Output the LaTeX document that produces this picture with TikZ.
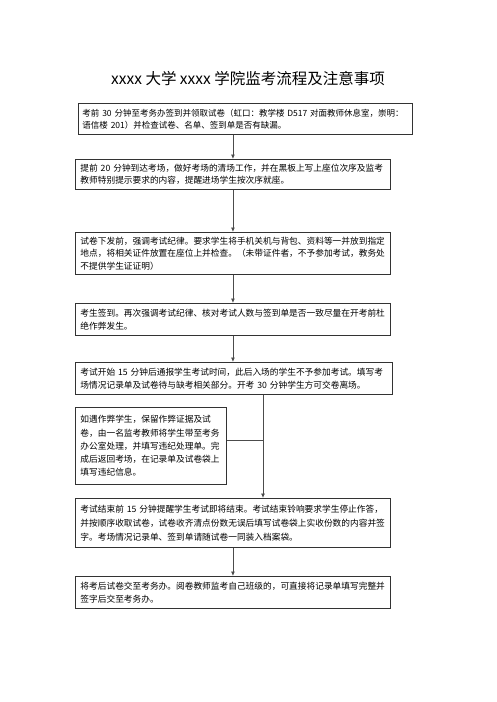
\documentclass[tikz,border=0pt]{standalone}
\usepackage{fontspec}
\newfontfamily\cjk{Noto Sans CJK SC}
\usetikzlibrary{arrows.meta}
\tikzset{
  stepbox/.style={draw=black!80, line width=0.9pt, inner xsep=5pt, inner ysep=3pt,
    anchor=north west, align=left, font=\cjk\fontsize{8.7}{12.5}\selectfont},
  link/.style={draw=black!70, line width=0.8pt}
}
\begin{document}
\begin{tikzpicture}[x=1pt,y=1pt,>={Latex[length=4.5pt,width=4pt]}]
\useasboundingbox [fill=white] (0,0) rectangle (496,-702);
\node (title) at (248,-79) [font=\cjk\fontsize{15.5}{18}\selectfont]{xxxx 大学 xxxx 学院监考流程及注意事项};

\node (start) at (78,-103) [stepbox, text width=326pt, inner xsep=4pt, minimum height=31pt, font=\cjk\fontsize{8.5}{12}\selectfont]
  {\mbox{考前 30 分钟至考务办签到并领取试卷（虹口：教学楼 D517 对面教师休息室，崇明：}\\语信楼 201）并检查试卷、名单、签到单是否有缺漏。};
\node (clear) at (75,-159) [stepbox, text width=305pt, minimum height=30pt]
  {提前 20 分钟到达考场，做好考场的清场工作，并在黑板上写上座位次序及监考\\教师特别提示要求的内容，提醒进场学生按次序就座。};
\node (rules) at (75,-232) [stepbox, text width=305pt, minimum height=42pt]
  {试卷下发前，强调考试纪律。要求学生将手机关机与背包、资料等一并放到指定\\地点，将相关证件放置在座位上并检查。（未带证件者，不予参加考试，教务处\\不提供学生证证明）};
\node (signin) at (75,-303) [stepbox, text width=305pt, minimum height=32pt]
  {考生签到。再次强调考试纪律、核对考试人数与签到单是否一致尽量在开考前杜\\绝作弊发生。};
\node (begin) at (75,-362) [stepbox, text width=307pt, minimum height=32pt]
  {考试开始 15 分钟后通报学生考试时间，此后入场的学生不予参加考试。填写考\\场情况记录单及试卷待与缺考相关部分。开考 30 分钟学生方可交卷离场。};
\node (cheat) at (75,-407) [stepbox, text width=141pt, minimum height=77pt, font=\cjk\fontsize{8.7}{13.2}\selectfont]
  {如遇作弊学生，保留作弊证据及试\\卷，由一名监考教师将学生带至考务\\办公室处理，并填写违纪处理单。完\\成后返回考场，在记录单及试卷袋上\\填写违纪信息。};
\node (finish) at (75,-498) [stepbox, text width=305pt, minimum height=49pt, font=\cjk\fontsize{8.7}{14}\selectfont]
  {考试结束前 15 分钟提醒学生考试即将结束。考试结束铃响要求学生停止作答，\\并按顺序收取试卷，试卷收齐清点份数无误后填写试卷袋上实收份数的内容并签\\字。考场情况记录单、签到单请随试卷一同装入档案袋。};
\node (hand) at (75,-576) [stepbox, text width=305pt, minimum height=32pt]
  {将考后试卷交至考务办。阅卷教师监考自己班级的，可直接将记录单填写完整并\\签字后交至考务办。};

\coordinate (join) at (263,-440);
\draw [link,->] (start.south -| clear.north) -- (clear.north);
\draw [link,->] (clear.south) -- (rules.north);
\draw [link,->] (rules.south) -- (signin.north);
\draw [link,->] (signin.south) -- (signin.south |- begin.north);
\draw [link,->] (begin.south -| join) -- (finish.north -| join);
\draw [link] (cheat.east |- join) -- (join);
\draw [link,->] (finish.south) -- (hand.north);
\end{tikzpicture}
\end{document}
